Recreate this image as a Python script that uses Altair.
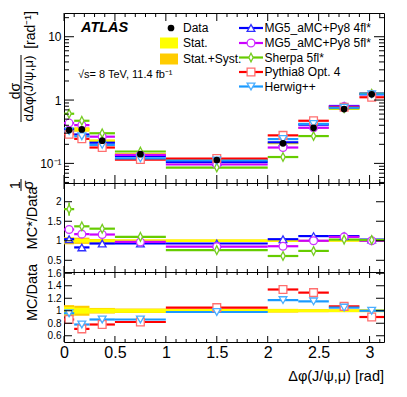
import math
import altair as alt
import pandas as pd

PI = math.pi
FONT = "Liberation Sans"
W = 320
H_TOP, H_MID, H_BOT = 170, 89, 70

# ---------------- data ----------------
bin_lo = [0.0, 0.1, 0.25, 0.5, 1.0, 2.0, 2.3, 2.6, 2.9]
bin_hi = [0.1, 0.25, 0.5, 1.0, 2.0, 2.3, 2.6, 2.9, PI]

data_y = [0.336, 0.344, 0.228, 0.140, 0.113, 0.207, 0.365, 0.720, 1.230]
stat_rel = [0.06, 0.047, 0.035, 0.03, 0.03, 0.025, 0.02, 0.02, 0.02]
tot_rel = [0.09, 0.08, 0.045, 0.035, 0.033, 0.03, 0.025, 0.023, 0.023]

mg4_y = [0.349, 0.286, 0.212, 0.130, 0.105, 0.215, 0.409, 0.806, 1.267]
mg5_y = [0.433, 0.402, 0.264, 0.136, 0.096, 0.178, 0.365, 0.792, 1.230]
sherpa_y = [0.608, 0.471, 0.299, 0.154, 0.086, 0.126, 0.270, 0.742, 1.255]
pythia_y = [0.289, 0.244, 0.178, 0.115, 0.119, 0.277, 0.471, 0.770, 1.107]
herwig_y = [0.323, 0.268, 0.196, 0.120, 0.111, 0.242, 0.420, 0.756, 1.230]

mg4_r = [1.04, 0.83, 0.93, 0.93, 0.93, 1.04, 1.12, 1.12, 1.03]
mg5_r = [1.29, 1.17, 1.16, 0.97, 0.85, 0.86, 1.00, 1.10, 1.00]
sherpa_r = [1.81, 1.37, 1.31, 1.10, 0.76, 0.61, 0.74, 1.03, 1.02]
sherpa_r_err = [0.17, 0.06, 0.05, 0.04, 0.02, 0.03, 0.03, 0.02, 0.02]
pythia_r = [0.86, 0.71, 0.78, 0.82, 1.05, 1.34, 1.29, 1.07, 0.90]
herwig_r = [0.96, 0.78, 0.86, 0.86, 0.98, 1.17, 1.15, 1.05, 1.00]

model_names = ["MG5_aMC+Py8 4fl*", "MG5_aMC+Py8 5fl*", "Sherpa 5fl*", "Pythia8 Opt. 4", "Herwig++"]
model_colors = ["#0000ff", "#cc00ff", "#66cc00", "#ff0000", "#1a9aff"]
marker_colors = ["#3030ff", "#cc33ff", "#77cc22", "#ff6f6f", "#4aaeff"]
DIAMOND = "M0,-1L0.5,0L0,1L-0.5,0Z"
model_shapes = ["triangle-up", "circle", DIAMOND, "square", "triangle-down"]
model_top = [mg4_y, mg5_y, sherpa_y, pythia_y, herwig_y]
model_ratio = [mg4_r, mg5_r, sherpa_r, pythia_r, herwig_r]

# tick positions
y_top_major = [0.1, 1, 10]
y_top_minor = [0.05, 0.06, 0.07, 0.08, 0.09, 0.2, 0.3, 0.4, 0.5, 0.6, 0.7, 0.8, 0.9,
               2, 3, 4, 5, 6, 7, 8, 9, 20]
y_mid_major = [0.5, 1, 1.5, 2]
y_bot_major = [0.6, 0.8, 1.0, 1.2, 1.4, 1.6]
x_major = [0, 0.5, 1, 1.5, 2, 2.5, 3]
x_minor = [round(0.1 * i, 1) for i in range(1, 32) if i % 5 != 0]

# ---------------- tables ----------------
bins = pd.DataFrame({"lo": bin_lo, "hi": bin_hi, "data": data_y,
                     "stat": stat_rel, "tot": tot_rel})
bins["c"] = (bins["lo"] + bins["hi"]) / 2
bins["t_lo"] = bins["data"] * (1 - bins["tot"])
bins["t_hi"] = bins["data"] * (1 + bins["tot"])
bins["s_lo"] = bins["data"] * (1 - bins["stat"])
bins["s_hi"] = bins["data"] * (1 + bins["stat"])
bins["rt_lo"] = 1 - bins["tot"]
bins["rt_hi"] = 1 + bins["tot"]
bins["rs_lo"] = 1 - bins["stat"]
bins["rs_hi"] = 1 + bins["stat"]

X = alt.Scale(domain=[0, PI], nice=False, zero=False)
ONE = alt.Data(values=[{"k": 1}])


def txt(s, x, y, size, angle=0, align="center", baseline="middle", weight="normal", style="normal"):
    return alt.Chart(ONE).mark_text(text=s, fontSize=size, angle=angle, align=align,
                                    baseline=baseline, fontWeight=weight, fontStyle=style,
                                    font=FONT, color="black").encode(
        x=alt.value(x), y=alt.value(y))


def vrule(x, y1, y2, color="black", width=1.0):
    return alt.Chart(ONE).mark_rule(color=color, strokeWidth=width).encode(
        x=alt.value(x), y=alt.value(y1), y2=alt.value(y2))


class Panel:
    def __init__(self, yscale, yaxis, xaxis, h):
        self.ys, self.ya, self.xa, self.h = yscale, yaxis, xaxis, h

    def X(self, f):
        return alt.X(f, scale=X, axis=self.xa)

    def Y(self, f):
        return alt.Y(f, scale=self.ys, axis=self.ya)


def ticks(p, ymaj, ymin, ylen, ylen_min, xlen, xlen_min):
    out = []
    for vals, ln in ((ymaj, ylen), (ymin, ylen_min)):
        if not vals:
            continue
        df = pd.DataFrame({"v": vals})
        for x0, x1 in ((0, ln), (W, W - ln)):
            out.append(alt.Chart(df).mark_rule(color="black", strokeWidth=1).encode(
                y=p.Y("v:Q"), x=alt.value(x0), x2=alt.value(x1)))
    for vals, ln in ((x_major, xlen), (x_minor, xlen_min)):
        df = pd.DataFrame({"v": vals})
        for y0, y1 in ((p.h, p.h - ln), (0, ln)):
            out.append(alt.Chart(df).mark_rule(color="black", strokeWidth=1).encode(
                x=p.X("v:Q"), y=alt.value(y0), y2=alt.value(y1)))
    return out


def bands(p, lo_t, hi_t, lo_s, hi_s):
    tot = alt.Chart(bins).mark_rect(color="#ffcc00").encode(
        x=p.X("lo:Q"), x2="hi:Q", y=p.Y(f"{lo_t}:Q"), y2=f"{hi_t}:Q")
    stat = alt.Chart(bins).mark_rect(color="#ffff00").encode(
        x=p.X("lo:Q"), x2="hi:Q", y=p.Y(f"{lo_s}:Q"), y2=f"{hi_s}:Q")
    return [tot, stat]


def model_layers(p, idx_list, which):
    lines, marks = [], []
    for i in idx_list:
        vals = model_top[i] if which == "top" else model_ratio[i]
        df = pd.DataFrame({"lo": bin_lo, "hi": bin_hi, "v": vals})
        df["c"] = (df["lo"] + df["hi"]) / 2
        lines.append(alt.Chart(df).mark_rule(color=model_colors[i], strokeWidth=2.2).encode(
            x=p.X("lo:Q"), x2="hi:Q", y=p.Y("v:Q")))
        marks.append(alt.Chart(df).mark_point(shape=model_shapes[i], filled=True, fill="white",
                                              stroke=marker_colors[i], strokeWidth=1.3,
                                              size=60 if i != 2 else 75, opacity=1).encode(
            x=p.X("c:Q"), y=p.Y("v:Q")))
    return lines, marks


# ---------------- top panel ----------------
top_yaxis = alt.Axis(values=y_top_major, ticks=False, domain=False, grid=False, title=None,
                     labelPadding=3, labelFontSize=12, labelFont=FONT, labelColor="black",
                     labelExpr="datum.value < 0.5 ? '10⁻¹' : (datum.value < 5 ? '1' : '10')")
PT = Panel(alt.Scale(type="log", domain=[0.049, 23.7], nice=False), top_yaxis, None, H_TOP)
top_layers = bands(PT, "t_lo", "t_hi", "s_lo", "s_hi")
ln, mk = model_layers(PT, [0, 1, 2, 3, 4], "top")
top_layers += ln + mk
top_layers.append(alt.Chart(bins).mark_rule(color="black", strokeWidth=1).encode(
    x=PT.X("c:Q"), y=PT.Y("t_lo:Q"), y2="t_hi:Q"))
top_layers.append(alt.Chart(bins).mark_point(shape="circle", filled=True, color="black",
                                             size=45, opacity=1).encode(
    x=PT.X("c:Q"), y=PT.Y("data:Q")))
top_layers += ticks(PT, y_top_major, y_top_minor, 10, 5, 8, 4)

# legend (left column)
LEG_FS = 12
top_layers.append(alt.Chart(ONE).mark_point(shape="circle", filled=True, color="black",
                                            size=45, opacity=1).encode(x=alt.value(107), y=alt.value(15)))
top_layers.append(txt("Data", 119, 15, LEG_FS, align="left"))
top_layers.append(alt.Chart(ONE).mark_rect(color="#ffff00").encode(
    x=alt.value(96), x2=alt.value(114), y=alt.value(24.5), y2=alt.value(35.5)))
top_layers.append(txt("Stat.", 119, 30, LEG_FS, align="left"))
top_layers.append(alt.Chart(ONE).mark_rect(color="#ffcc00").encode(
    x=alt.value(96), x2=alt.value(114), y=alt.value(40.5), y2=alt.value(51.5)))
top_layers.append(txt("Stat.+Syst.", 119, 46, LEG_FS, align="left"))
# legend (right column)
leg_rows = [15, 30, 44.5, 59, 73.5]
for i, yy in enumerate(leg_rows):
    top_layers.append(alt.Chart(ONE).mark_rule(color=model_colors[i], strokeWidth=2.2).encode(
        x=alt.value(175), x2=alt.value(199), y=alt.value(yy)))
    top_layers.append(alt.Chart(ONE).mark_point(shape=model_shapes[i], filled=True, fill="white",
                                                stroke=marker_colors[i], strokeWidth=1.3,
                                                size=60 if i != 2 else 75, opacity=1).encode(
        x=alt.value(187), y=alt.value(yy)))
    top_layers.append(txt(model_names[i], 200.5, yy, LEG_FS, align="left"))

# labels
top_layers.append(txt("ATLAS", 17, 19, 14.5, align="left", baseline="alphabetic",
                      weight="bold", style="italic"))
top_layers.append(txt("√s= 8 TeV, 11.4 fb⁻¹", 14, 65, 11, align="left", baseline="alphabetic"))
# y title: 1/σ dσ/dΔφ(J/ψ,μ) [rad⁻¹]
top_layers.append(txt("[rad⁻¹]", -33, 17, 14, angle=270))
top_layers.append(txt("dσ", -48, 78, 14, angle=270))
top_layers.append(vrule(-43, 42, 109))
top_layers.append(txt("dΔφ(J/ψ,μ)", -35, 75.5, 13.5, angle=270))
top_layers.append(txt("1", -48, 172, 14, angle=270))
top_layers.append(vrule(-43, 166, 178))
top_layers.append(txt("σ", -35.5, 172, 14, angle=270))

top = alt.layer(*top_layers).properties(width=W, height=H_TOP)

# ---------------- middle panel (MC*/Data) ----------------
mid_yaxis = alt.Axis(values=y_mid_major, ticks=False, domain=False, grid=False, title=None,
                     labelPadding=3, labelFontSize=10, labelFont=FONT, labelColor="black",
                     format=".1~f")
PM = Panel(alt.Scale(domain=[0.2, 2.48], nice=False, zero=False), mid_yaxis, None, H_MID)
mid_layers = bands(PM, "rt_lo", "rt_hi", "rs_lo", "rs_hi")
ln, mk = model_layers(PM, [0, 1, 2], "ratio")
sh_err = pd.DataFrame({"lo": bin_lo, "hi": bin_hi, "v": sherpa_r, "e": sherpa_r_err})
sh_err["c"] = (sh_err["lo"] + sh_err["hi"]) / 2
sh_err["a"] = sh_err["v"] - sh_err["e"]
sh_err["b"] = sh_err["v"] + sh_err["e"]
mid_layers += ln
mid_layers.append(alt.Chart(sh_err).mark_rule(color=model_colors[2], strokeWidth=1.5).encode(
    x=PM.X("c:Q"), y=PM.Y("a:Q"), y2="b:Q"))
mid_layers += mk
mid_layers += ticks(PM, y_mid_major, [], 8, 4, 6, 3)
mid_layers.append(txt("MC*/Data", -31, 35, 14.5, angle=270))
mid = alt.layer(*mid_layers).properties(width=W, height=H_MID)

# ---------------- bottom panel (MC/Data) ----------------
bot_yaxis = alt.Axis(values=y_bot_major, ticks=False, domain=False, grid=False, title=None,
                     labelPadding=3, labelFontSize=10, labelFont=FONT, labelColor="black",
                     format=".1~f")
bot_xaxis = alt.Axis(values=x_major, ticks=False, domain=False, grid=False, title=None,
                     labelPadding=2, labelFontSize=16, labelFont=FONT, labelColor="black",
                     format=".1~f", labelFlush=False, labelOverlap=False)
PB = Panel(alt.Scale(domain=[0.5, 1.62], nice=False, zero=False), bot_yaxis, bot_xaxis, H_BOT)
bot_layers = bands(PB, "rt_lo", "rt_hi", "rs_lo", "rs_hi")
ln, mk = model_layers(PB, [3, 4], "ratio")
bot_layers += ln + mk
bot_layers += ticks(PB, y_bot_major, [], 8, 4, 6, 3)
bot_layers.append(txt("MC/Data", -31, 20.5, 14.5, angle=270))
bot_layers.append(txt("Δφ(J/ψ,μ) [rad]", W, 104.5, 14.5, align="right"))
bot = alt.layer(*bot_layers).properties(width=W, height=H_BOT)

chart = alt.vconcat(top, mid, bot, spacing=0, bounds="flush").properties(
    padding={"left": 0, "top": 2, "right": 5, "bottom": 0}
).configure_view(stroke="black", strokeWidth=1).configure_axis(
    labelFont=FONT, labelColor="black", grid=False)

chart.save("out.html", embed_options={"renderer": "svg", "actions": False})
